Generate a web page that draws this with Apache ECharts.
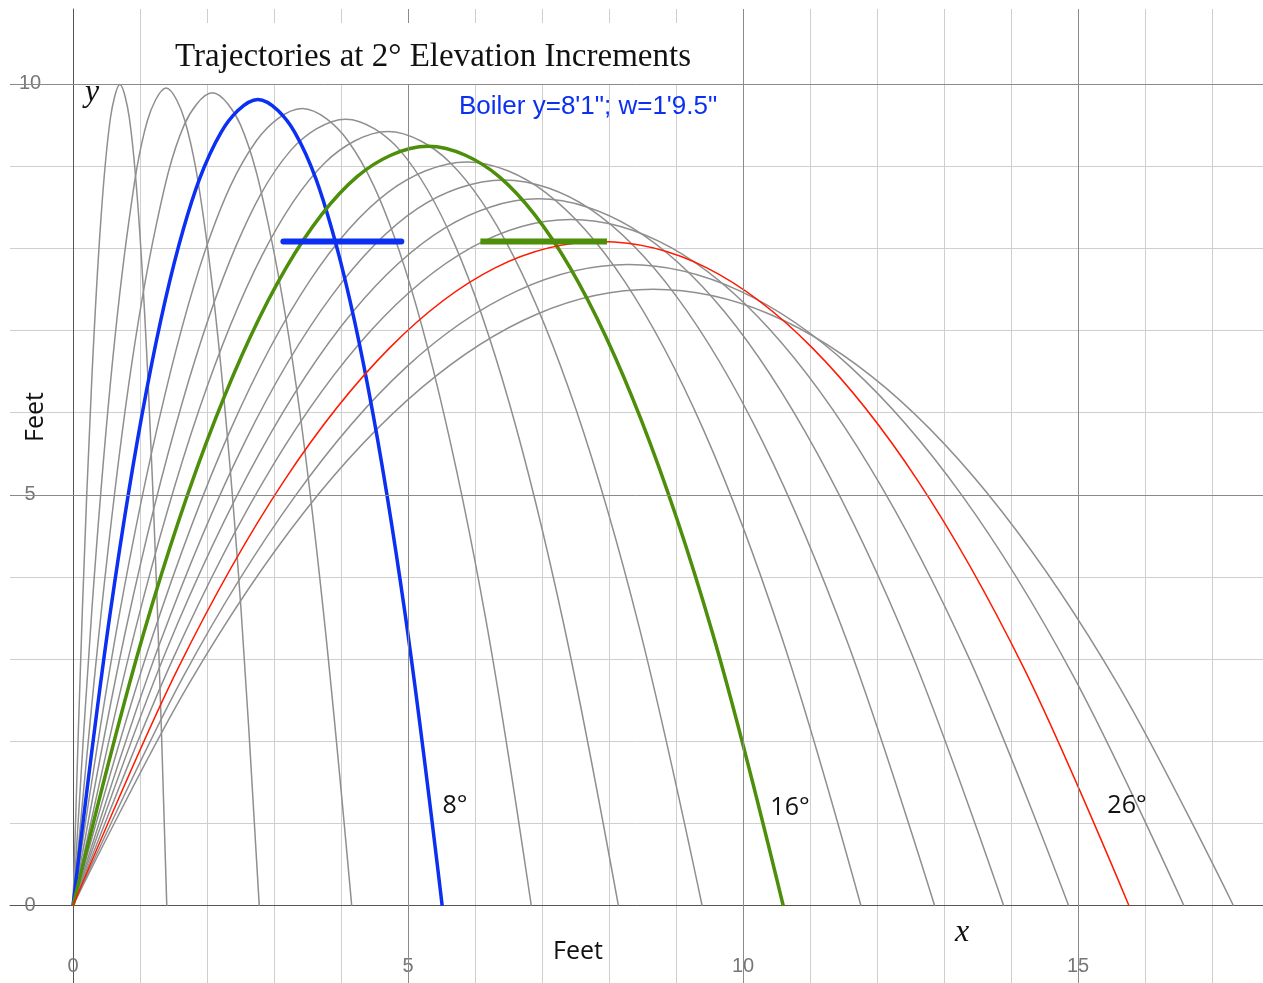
<!DOCTYPE html>
<html>
<head>
<meta charset="utf-8">
<script src="https://cdn.jsdelivr.net/npm/echarts@6/dist/echarts.min.js"></script>
<style>
html,body{margin:0;padding:0;background:#fff;}
#chart{width:1263px;height:983px;}
</style>
</head>
<body>
<div id="chart"></div>
<script>
// Trajectory points: [x feet, y feet]
const traj2  = [[0,0],[0.14,3.60],[0.28,6.39],[0.42,8.39],[0.56,9.59],[0.70,9.99],[0.84,9.59],[0.98,8.39],[1.12,6.39],[1.26,3.60],[1.40,0]];
const traj4  = [[0,0],[0.28,3.58],[0.56,6.37],[0.84,8.36],[1.11,9.55],[1.39,9.95],[1.67,9.55],[1.95,8.36],[2.23,6.37],[2.51,3.58],[2.78,0]];
const traj6  = [[0,0],[0.42,3.56],[0.83,6.33],[1.25,8.31],[1.66,9.50],[2.08,9.89],[2.50,9.50],[2.91,8.31],[3.33,6.33],[3.74,3.56],[4.16,0]];
const traj8  = [[0,0],[0.55,3.53],[1.10,6.28],[1.65,8.24],[2.21,9.41],[2.76,9.81],[3.31,9.41],[3.86,8.24],[4.41,6.28],[4.96,3.53],[5.51,0]];
const traj10 = [[0,0],[0.68,3.49],[1.37,6.21],[2.05,8.15],[2.74,9.31],[3.42,9.70],[4.10,9.31],[4.79,8.15],[5.47,6.21],[6.16,3.49],[6.84,0]];
const traj12 = [[0,0],[0.81,3.44],[1.63,6.12],[2.44,8.04],[3.25,9.19],[4.07,9.57],[4.88,9.19],[5.70,8.04],[6.51,6.12],[7.32,3.44],[8.14,0]];
const traj14 = [[0,0],[0.94,3.39],[1.88,6.03],[2.82,7.91],[3.76,9.04],[4.70,9.42],[5.63,9.04],[6.57,7.91],[7.51,6.03],[8.45,3.39],[9.39,0]];
const traj16 = [[0,0],[1.06,3.33],[2.12,5.91],[3.18,7.76],[4.24,8.87],[5.30,9.24],[6.36,8.87],[7.42,7.76],[8.48,5.91],[9.54,3.33],[10.60,0]];
const traj18 = [[0,0],[1.18,3.26],[2.35,5.79],[3.53,7.60],[4.70,8.68],[5.88,9.05],[7.05,8.68],[8.23,7.60],[9.41,5.79],[10.58,3.26],[11.76,0]];
const traj20 = [[0,0],[1.29,3.18],[2.57,5.65],[3.86,7.42],[5.14,8.48],[6.43,8.83],[7.71,8.48],[9.00,7.42],[10.29,5.65],[11.57,3.18],[12.86,0]];
const traj22 = [[0,0],[1.39,3.10],[2.78,5.50],[4.17,7.22],[5.56,8.25],[6.95,8.60],[8.34,8.25],[9.73,7.22],[11.11,5.50],[12.50,3.10],[13.89,0]];
const traj24 = [[0,0],[1.49,3.00],[2.97,5.34],[4.46,7.01],[5.95,8.01],[7.43,8.35],[8.92,8.01],[10.40,7.01],[11.89,5.34],[13.38,3.00],[14.86,0]];
const traj26 = [[0,0],[1.58,2.91],[3.15,5.17],[4.73,6.79],[6.30,7.76],[7.88,8.08],[9.46,7.76],[11.03,6.79],[12.61,5.17],[14.18,2.91],[15.76,0]];
const traj28 = [[0,0],[1.66,2.81],[3.32,4.99],[4.97,6.55],[6.63,7.48],[8.29,7.80],[9.95,7.48],[11.61,6.55],[13.27,4.99],[14.92,2.81],[16.58,0]];
const traj30 = [[0,0],[1.73,2.70],[3.46,4.80],[5.20,6.30],[6.93,7.20],[8.66,7.50],[10.39,7.20],[12.13,6.30],[13.86,4.80],[15.59,2.70],[17.32,0]];

const angles = [2,4,6,8,10,12,14,16,18,20,22,24,26,28,30];
const trajectories = [traj2,traj4,traj6,traj8,traj10,traj12,traj14,traj16,traj18,traj20,traj22,traj24,traj26,traj28,traj30];

// Boiler openings (y = 8'1")
const boilerBlue  = [[3.14,8.08],[4.90,8.08]];
const boilerGreen = [[6.08,8.08],[7.97,8.08]];

const xTickLabels = [0,5,10,15];
const yTickLabels = [0,5,10];
const xMajor = [5,10,15];
const yMajor = [5,10];

const highlight = {
  8:  {color:'#0b30f2', width:3.5},
  16: {color:'#4d8e0b', width:3.5},
  26: {color:'#ff1a00', width:1.5}
};

const chart = echarts.init(document.getElementById('chart'), null, {renderer:'canvas'});

const series = [];
// major grid lines
series.push({
  type:'line', data:[], z:1, silent:true,
  markLine:{
    symbol:'none', silent:true, animation:false,
    label:{show:false},
    lineStyle:{color:'#8a8a8a', width:1, type:'solid'},
    data: xMajor.map(v=>({xAxis:v})).concat(yMajor.map(v=>({yAxis:v})))
  }
});
trajectories.forEach((d,i)=>{
  const a = angles[i];
  const h = highlight[a];
  series.push({
    type:'line', name:a+'°', data:d, smooth:0.34, showSymbol:false, silent:true,
    z: h ? 4 : 3,
    lineStyle:{color: h ? h.color : '#8f8f8f', width: h ? h.width : 1.5}
  });
});
series.push({type:'line', data:boilerBlue, showSymbol:false, silent:true, z:5,
  lineStyle:{color:'#0b30f2', width:6, cap:'round'}});
series.push({type:'line', data:boilerGreen, showSymbol:false, silent:true, z:5,
  lineStyle:{color:'#4d8e0b', width:6, cap:'butt'}});

const labelFont = '"Open Sans", "Noto Sans", sans-serif';

chart.setOption({
  animation:false,
  backgroundColor:'#ffffff',
  title:{
    text:'Trajectories at 2° Elevation Increments',
    left:158, top:23,
    padding:[14,17,7,17],
    backgroundColor:'#ffffff',
    textStyle:{fontFamily:'"Liberation Serif", "DejaVu Serif", serif', fontSize:33, fontWeight:'normal', color:'#111', lineHeight:40}
  },
  grid:{left:10, right:0, top:9, bottom:0, containLabel:false, outerBoundsMode:'none'},
  xAxis:{
    type:'value', min:-0.94, max:17.76, minInterval:1, maxInterval:1, splitNumber:18,
    axisLine:{show:true, onZero:true, lineStyle:{color:'#555', width:1}},
    axisTick:{show:false},
    splitLine:{show:true, showMinLine:false, showMaxLine:false, lineStyle:{color:'#cfcfcf', width:1}},
    axisLabel:{
      show:true, inside:true, margin:17, verticalAlign:'middle', align:'center',
      showMinLabel:false, showMaxLabel:false,
      fontFamily:'"Liberation Sans", Arial, sans-serif', fontSize:20, color:'#777',
      formatter:v=> xTickLabels.indexOf(Math.round(v*100)/100)>=0 ? String(v) : ''
    }
  },
  yAxis:{
    type:'value', min:-0.94, max:10.91, minInterval:1, maxInterval:1, splitNumber:12,
    axisLine:{show:true, onZero:true, lineStyle:{color:'#555', width:1}},
    axisTick:{show:false},
    splitLine:{show:true, showMinLine:false, showMaxLine:false, lineStyle:{color:'#cfcfcf', width:1}},
    axisLabel:{
      show:true, inside:true, margin:20, align:'center', verticalAlign:'middle',
      showMinLabel:false, showMaxLabel:false,
      fontFamily:'"Liberation Sans", Arial, sans-serif', fontSize:20, color:'#777',
      formatter:v=> yTickLabels.indexOf(Math.round(v*100)/100)>=0 ? String(v) : ''
    }
  },
  series: series,
  graphic:[
    {type:'text', x:459, y:107, z:10, style:{text:'Boiler y=8\'1"; w=1\'9.5"', fill:'#0b30f2',
      font:'26px "Liberation Sans", Arial, sans-serif', textAlign:'left', textVerticalAlign:'middle'}},
    {type:'text', x:92, y:93, z:10, style:{text:'y', fill:'#111',
      font:'italic 32px "Liberation Serif", serif', textAlign:'center', textVerticalAlign:'middle'}},
    {type:'text', x:962, y:933, z:10, style:{text:'x', fill:'#111',
      font:'italic 32px "Liberation Serif", serif', textAlign:'center', textVerticalAlign:'middle'}},
    {type:'text', x:578, y:952, z:10, style:{text:'Feet', fill:'#111',
      font:'25px '+labelFont, textAlign:'center', textVerticalAlign:'middle'}},
    {type:'text', x:36, y:417, rotation:Math.PI/2, z:10, style:{text:'Feet', fill:'#111',
      font:'25px '+labelFont, textAlign:'center', textVerticalAlign:'middle'}},
    {type:'text', x:455, y:806, z:10, style:{text:'8°', fill:'#111',
      font:'25px '+labelFont, textAlign:'center', textVerticalAlign:'middle'}},
    {type:'text', x:790, y:808, z:10, style:{text:'16°', fill:'#111',
      font:'25px '+labelFont, textAlign:'center', textVerticalAlign:'middle'}},
    {type:'text', x:1127, y:806, z:10, style:{text:'26°', fill:'#111',
      font:'25px '+labelFont, textAlign:'center', textVerticalAlign:'middle'}}
  ]
});
</script>
</body>
</html>
